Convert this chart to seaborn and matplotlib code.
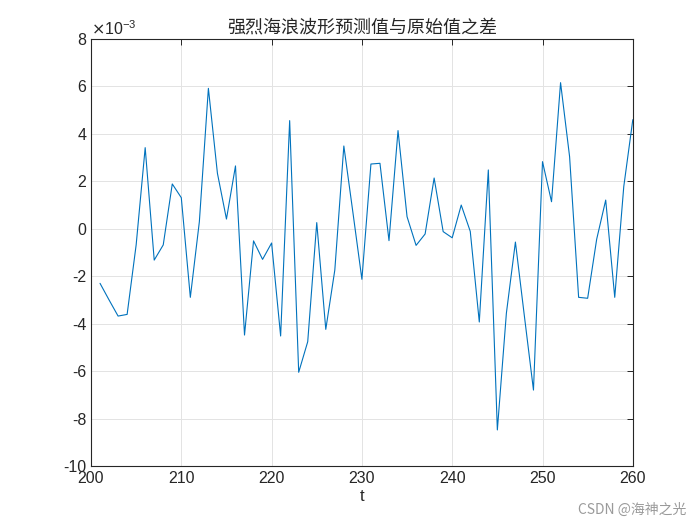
import numpy as np
import pandas as pd
import matplotlib
matplotlib.use("Agg")
import matplotlib.pyplot as plt
import seaborn as sns
from matplotlib.ticker import ScalarFormatter, MultipleLocator

# data (values in units of 1e-3)
t = list(range(201, 261))
diff_e3 = [-2.30, -3.00, -3.68, -3.61, -0.68, 3.42, -1.32, -0.68, 1.89, 1.31,
           -2.89, 0.30, 5.92, 2.34, 0.41, 2.65, -4.48, -0.51, -1.29, -0.60,
           -4.52, 4.56, -6.05, -4.76, 0.26, -4.24, -1.74, 3.49, 0.70, -2.13,
           2.73, 2.76, -0.50, 4.14, 0.51, -0.70, -0.22, 2.14, -0.12, -0.38,
           1.00, -0.11, -3.93, 2.48, -8.48, -3.56, -0.56, -3.70, -6.80, 2.83,
           1.14, 6.16, 3.04, -2.89, -2.93, -0.44, 1.21, -2.89, 1.78, 4.60]
title = "强烈海浪波形预测值与原始值之差"
xlabel = "t"
watermark = "CSDN @海神之光"

df = pd.DataFrame({"t": t, "diff": np.array(diff_e3) * 1e-3})


class FixedOrderFormatter(ScalarFormatter):
    def _set_order_of_magnitude(self):
        self.orderOfMagnitude = -3

    def _set_format(self):
        self.format = "%d"


sns.set_theme(style="white")
plt.rcParams['font.family'] = ['Liberation Sans', 'Noto Sans CJK SC', 'DejaVu Sans']
plt.rcParams['axes.unicode_minus'] = False

fig = plt.figure(figsize=(7, 5.25), dpi=100)
ax = fig.add_axes([0.13, 0.1124, 0.774, 0.8133])
sns.lineplot(data=df, x="t", y="diff", ax=ax, color="#0072BD", linewidth=0.8)

ax.set_xlim(200, 260)
ax.set_ylim(-0.010, 0.008)
ax.xaxis.set_major_locator(MultipleLocator(10))
ax.yaxis.set_major_locator(MultipleLocator(0.002))
fmt = FixedOrderFormatter(useMathText=True)
ax.yaxis.set_major_formatter(fmt)
ax.yaxis.get_offset_text().set_fontsize(11.5)
ax.yaxis.get_offset_text().set_color("#262626")

ax.grid(True, color="#E3E3E3", linewidth=0.7)
for s in ax.spines.values():
    s.set_color("#262626")
    s.set_linewidth(0.8)
    s.set_visible(True)
ax.tick_params(direction="in", length=4, width=0.7, colors="#262626",
               labelsize=11.5, top=True, right=True, labelcolor="#262626")

ax.set_xlabel(xlabel, fontsize=12, color="#262626", labelpad=2)
ax.set_ylabel("")
ax.set_title(title, fontsize=13, color="#262626", pad=5,
             family=['Noto Sans CJK SC', 'DejaVu Sans'])
fig.text(0.98, 0.015, watermark, ha="right", va="bottom", fontsize=10,
         color="#9A9A9A", family=['Noto Sans CJK SC', 'DejaVu Sans'])

fig.savefig("out.png", dpi=100, facecolor="white")
